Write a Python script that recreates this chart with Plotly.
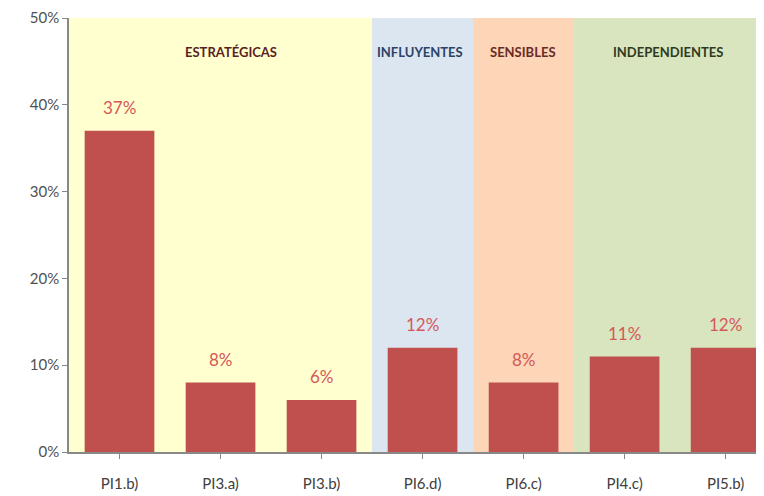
import plotly.graph_objects as go

# data
categories = ["PI1.b)", "PI3.a)", "PI3.b)", "PI6.d)", "PI6.c)", "PI4.c)", "PI5.b)"]
values = [0.37, 0.08, 0.06, 0.12, 0.08, 0.11, 0.12]

# groups: name, first category index, last category index
group_names = ["ESTRATÉGICAS", "INFLUYENTES", "SENSIBLES", "INDEPENDIENTES"]
group_first = [0, 3, 4, 5]
group_last = [2, 3, 4, 6]
group_fill = ["#FFFFCF", "#DCE6F1", "#FCD6B6", "#D9E5BF"]
group_text = ["#5A1F1F", "#2B4366", "#6B2A26", "#2F3B20"]
group_label_x = [1.1, 2.97, 3.99, 5.43]

bar_color = "#C0504D"
label_color = "#D6575A"

fig = go.Figure()

fig.add_trace(go.Bar(
    x=list(range(len(categories))),
    y=values,
    marker=dict(color=bar_color, line=dict(width=0)),
    width=0.69,
    hoverinfo="x+y",
))

# coloured background bands per group
for name, a, b, fill in zip(group_names, group_first, group_last, group_fill):
    fig.add_shape(type="rect", xref="x", yref="paper",
                  x0=a - 0.5, x1=b + 0.5, y0=0, y1=1,
                  fillcolor=fill, line=dict(width=0), layer="below")

# group titles
for name, xpos, col in zip(group_names, group_label_x, group_text):
    fig.add_annotation(x=xpos, y=0.461, xref="x", yref="y", text=name,
                       showarrow=False,
                       font=dict(family="Lato, Open Sans", size=13,
                                 color=col, weight="bold"))

# value labels above bars
for i, v in enumerate(values):
    fig.add_annotation(x=i, y=v, text=f"{round(v * 100)}%", showarrow=False,
                       yshift=23, font=dict(family="Lato, Open Sans", size=17, color=label_color))

# page has an 8px body margin, so the figure is a bit smaller than the window
fig.update_layout(
    width=756, height=488,
    margin=dict(l=61, r=0, t=7, b=44),
    paper_bgcolor="white",
    plot_bgcolor="white",
    showlegend=False,
    font=dict(family="Lato, Open Sans", size=14, color="#404040"),
)

fig.update_xaxes(
    range=[-0.5, 6.38],
    tickmode="array", tickvals=list(range(len(categories))), ticktext=categories,
    tickson="boundaries",
    ticks="outside", ticklen=5, tickcolor="#888888",
    ticklabelstandoff=12, ticklabeloverflow="allow",
    showline=True, linecolor="#888888", linewidth=1.5,
    showgrid=False, zeroline=False,
    tickfont=dict(size=15, color="#404040"),
)
fig.update_yaxes(
    range=[0, 0.5], dtick=0.1, tickformat=".0%",
    ticks="outside", ticklen=5, tickcolor="#888888",
    ticklabeloverflow="allow",
    showline=True, linecolor="#888888", linewidth=1.5,
    showgrid=False, zeroline=False,
    tickfont=dict(size=15, color="#505050"),
)

fig.write_html("out.html")
